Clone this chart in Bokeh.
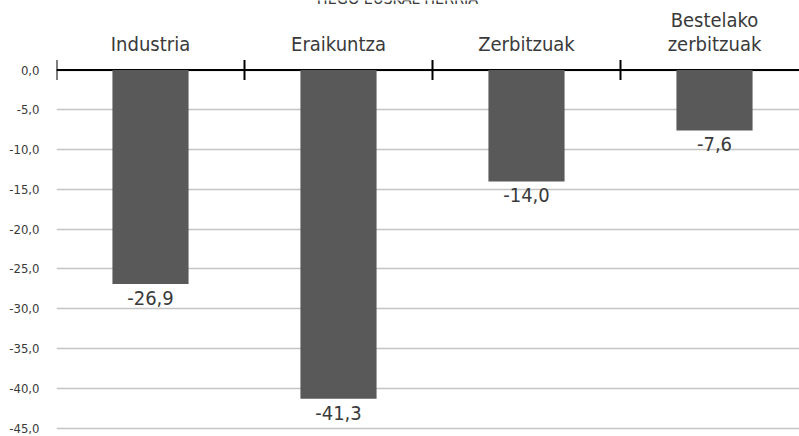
import math
from bokeh.plotting import figure
from bokeh.models import Range1d, FixedTicker, Label, Span, ColumnDataSource
from bokeh.core.properties import value
from bokeh.embed import file_html
from bokeh.resources import INLINE

# ---- data ----
title_text = "HEGO EUSKAL HERRIA"
categories = ["Industria", "Eraikuntza", "Zerbitzuak", "Bestelako\nzerbitzuak"]
values = [-26.9, -41.3, -14.0, -7.6]
value_labels = ["-26,9", "-41,3", "-14,0", "-7,6"]
y_ticks = [0, -5, -10, -15, -20, -25, -30, -35, -40, -45]
y_tick_labels = ["0,0", "-5,0", "-10,0", "-15,0", "-20,0", "-25,0", "-30,0", "-35,0", "-40,0", "-45,0"]

FONT = "'DejaVu Sans Condensed', Roboto, sans-serif"
TEXT = "#3a3a3a"

# ---- layout ----
W, H = 799, 436
frame_left = 56
zero_y = 69.5
px_per_unit = 7.958
cat_px = 188

x_end = (W - frame_left) / cat_px
y_end = zero_y / px_per_unit
y_start = -(H - zero_y) / px_per_unit

p = figure(width=W, height=H, output_backend="svg", toolbar_location=None,
           x_range=Range1d(0, x_end), y_range=Range1d(y_start, y_end),
           min_border_left=frame_left, min_border_right=0,
           min_border_top=0, min_border_bottom=0,
           x_axis_location=None)
p.outline_line_color = None
p.background_fill_color = "white"
p.border_fill_color = "white"

# y axis
ya = p.yaxis[0]
ya.ticker = FixedTicker(ticks=y_ticks)
ya.major_label_overrides = {t: l for t, l in zip(y_ticks, y_tick_labels)}
ya.axis_line_color = None
ya.major_tick_line_color = None
ya.minor_tick_line_color = None
ya.major_tick_in = 0
ya.major_tick_out = 0
ya.major_label_standoff = 17
ya.major_label_text_font = FONT
ya.major_label_text_font_size = "13px"
ya.major_label_text_color = TEXT

p.xgrid.visible = False
p.ygrid.ticker = FixedTicker(ticks=y_ticks)
p.ygrid.grid_line_color = "#c4c4c4"
p.ygrid.grid_line_width = 1.5

# zero line
p.add_layout(Span(location=0, dimension="width", line_color="black", line_width=2, level="underlay"))

xs = [i + 0.5 for i in range(len(categories))]
src = ColumnDataSource(dict(x=xs, top=values, cat=categories, lab=value_labels))

p.vbar(x="x", top="top", bottom=0, width=0.405, source=src,
       fill_color="#595959", line_color=None)

# category boundary ticks on the zero line
bounds = list(range(len(categories)))
p.scatter(x=bounds, y=[0] * len(bounds), marker="dash", size=20, angle=math.pi / 2,
          line_color="black", line_width=2)

# category labels above zero line
p.text(x="x", y=0, text="cat", source=src, text_align="center", text_baseline="bottom",
       y_offset=-14, text_font=value(FONT), text_font_size="20px", text_color=TEXT,
       text_line_height=1.0)

# value labels below bars
p.text(x="x", y="top", text="lab", source=src, text_align="center", text_baseline="top",
       y_offset=7, text_font=value(FONT), text_font_size="20px", text_color=TEXT)

# title (cut off at top of the image)
p.add_layout(Label(x=397 - frame_left, y=H + 2, x_units="screen", y_units="screen",
                   text=title_text, text_align="center", text_baseline="alphabetic",
                   text_font=FONT, text_font_size="16px", text_color=TEXT))

open("out.html", "w").write(file_html(p, INLINE))
